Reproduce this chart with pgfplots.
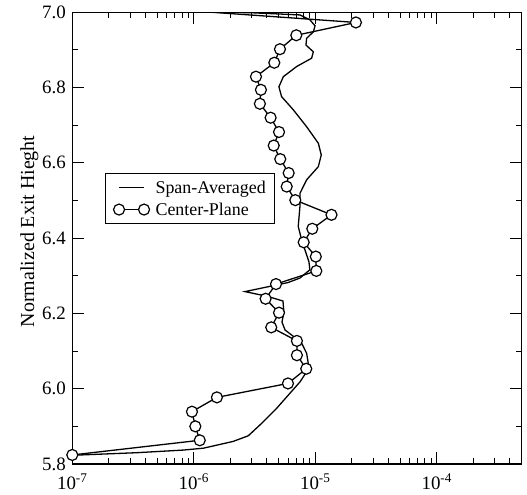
\documentclass[border=0pt]{standalone}
\usepackage{fontspec}
\setmainfont{Liberation Serif}
\usepackage{pgfplots}
\pgfplotsset{compat=1.18}
\begin{document}
\begin{tikzpicture}
\begin{axis}[
  name=ax,
  xmode=log,
  scale only axis,
  width=449.4bp, height=451.7bp,
  xmin=1e-7, xmax=5e-4,
  ymin=5.8, ymax=7.0,
  xtick={1e-7,1e-6,1e-5,1e-4},
  xticklabels={10\textsuperscript{-7},10\textsuperscript{-6},10\textsuperscript{-5},10\textsuperscript{-4}},
  minor xtick={2e-7,3e-7,4e-7,5e-7,6e-7,7e-7,8e-7,9e-7,2e-6,3e-6,4e-6,5e-6,6e-6,7e-6,8e-6,9e-6,2e-5,3e-5,4e-5,5e-5,6e-5,7e-5,8e-5,9e-5,2e-4,3e-4,4e-4},
  ytick={5.8,6.0,6.2,6.4,6.6,6.8,7.0},
  minor ytick={5.9,6.1,6.3,6.5,6.7,6.9},
  /pgf/number format/assume math mode=true,
  y tick label style={/pgf/number format/fixed,/pgf/number format/fixed zerofill,/pgf/number format/precision=1, xshift=-3bp},
  tick label style={font=\fontsize{19}{22}\selectfont},
  xticklabel style={inner sep=1bp, yshift=-9bp},
  tick align=inside,
  major tick length=12bp, minor tick length=6bp,
  axis line style={line width=1.2bp},
  every tick/.style={black, line width=1bp},
  ylabel={Normalized Exit Hieght},
  every axis y label/.style={at={(axis description cs:-0.0957,0.515)}, rotate=90, anchor=center, font=\fontsize{20}{24}\selectfont},
  legend style={at={(0.0728,0.6436)}, anchor=north west, draw=black, line width=0.8bp,
    font=\fontsize{18}{21}\selectfont, inner xsep=7bp, inner ysep=5bp, row sep=4bp, column sep=4bp},
  legend cell align=left,
  legend image code/.code={\path (0bp,0bp) rectangle (0bp,0bp); \draw[#1] plot coordinates {(6bp,0bp) (31bp,0bp)};},
]
\addplot[black, line width=1.3bp] coordinates {
(1.45e-6,7.000) (2.90e-6,6.999) (7.48e-6,6.993) (9.03e-6,6.980) (9.96e-6,6.964)
(9.64e-6,6.948) (8.49e-6,6.931) (8.38e-6,6.913) (9.64e-6,6.895) (9.33e-6,6.878)
(7.03e-6,6.856) (5.46e-6,6.829) (5.02e-6,6.802) (5.28e-6,6.776) (6.59e-6,6.741)
(8.49e-6,6.696) (1.06e-5,6.652) (1.12e-5,6.621) (1.06e-5,6.590) (8.49e-6,6.555)
(7.48e-6,6.519) (7.48e-6,6.484) (7.24e-6,6.431) (7.73e-6,6.395) (8.22e-6,6.369)
(8.87e-6,6.337) (9.03e-6,6.316) (7.48e-6,6.294) (5.96e-6,6.282) (2.64e-6,6.258)
(4.08e-6,6.245) (5.42e-6,6.233) (5.52e-6,6.204) (5.32e-6,6.177) (5.64e-6,6.156)
(6.55e-6,6.140) (7.73e-6,6.121) (8.49e-6,6.094) (8.75e-6,6.068) (8.49e-6,6.045)
(7.48e-6,6.018) (6.19e-6,5.988) (4.81e-6,5.948) (3.62e-6,5.908) (2.81e-6,5.875)
(2.11e-6,5.860) (1.20e-6,5.842) (8.2e-7,5.837) (3.39e-7,5.830) (1.16e-7,5.824)
(1.0e-7,5.823)
};
\addlegendentry{Span-Averaged}
\addplot[black, line width=1.3bp, forget plot] coordinates {(5.2e-7,7.01) (2.16e-5,6.973)};
\addplot[black, line width=1.3bp, mark=*, mark size=5.5bp, mark options={fill=white, draw=black, line width=1.2bp}] coordinates {
(2.16e-5,6.973) (6.98e-6,6.939) (5.12e-6,6.902) (4.60e-6,6.866) (3.25e-6,6.829)
(3.57e-6,6.794) (3.50e-6,6.757) (4.29e-6,6.720) (5.03e-6,6.682) (4.55e-6,6.646)
(5.15e-6,6.610) (6.04e-6,6.573) (5.82e-6,6.537) (6.85e-6,6.501) (1.36e-5,6.462)
(9.45e-6,6.425) (8.03e-6,6.389) (1.01e-5,6.351) (1.02e-5,6.313) (4.75e-6,6.278)
(3.90e-6,6.239) (5.03e-6,6.202) (4.34e-6,6.163) (7.06e-6,6.127) (7.06e-6,6.089)
(8.43e-6,6.053) (5.96e-6,6.014) (1.55e-6,5.977) (9.66e-7,5.939) (1.03e-6,5.900)
(1.12e-6,5.863) (1.0e-7,5.824)
};
\addlegendentry{Center-Plane}
\end{axis}
\pgfresetboundingbox
\path[use as bounding box] ([xshift=-72.3bp,yshift=-31bp]ax.south west) rectangle ([xshift=5.3bp,yshift=12.3bp]ax.north east);
\end{tikzpicture}
\end{document}
